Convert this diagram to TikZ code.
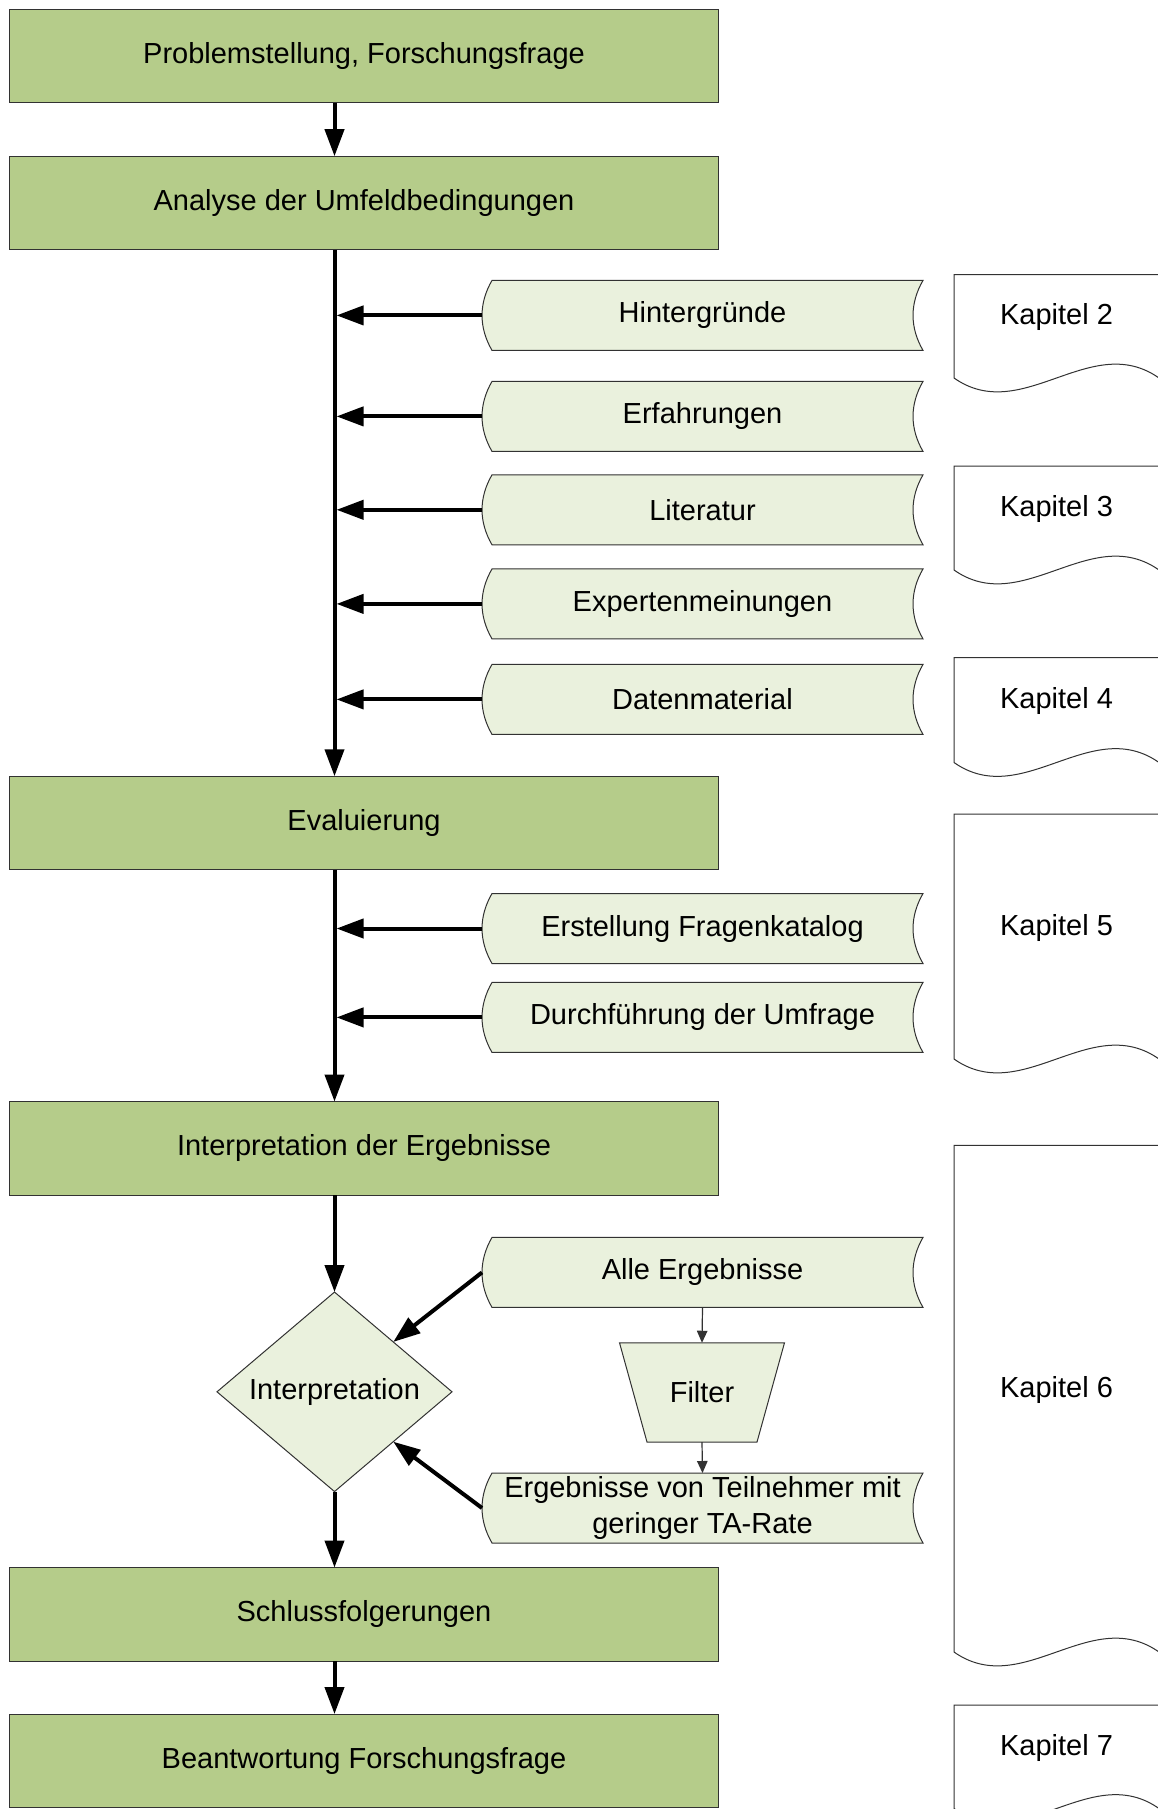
\documentclass[tikz,border=0pt]{standalone}
\usepackage{fontspec}
\setmainfont{Liberation Sans}
\usetikzlibrary{arrows.meta,calc,shapes.geometric,backgrounds}
\definecolor{mainfill}{RGB}{181,204,138}
\definecolor{lightfill}{RGB}{234,241,221}
\definecolor{edgecol}{RGB}{50,50,50}

\newcommand\datanode[3]{%
  \node[databox] (#1) at (702.5,#2) {#3};
  \begin{pgfonlayer}{background}
  \path[datafill] ($(#1.north west)+(10,0)$) -- (#1.north east)
    .. controls +(-13.3,23) and +(-13.3,-23) .. (#1.south east)
    -- ($(#1.south west)+(10,0)$)
    .. controls +(-13.3,-23) and +(-13.3,23) .. ($(#1.north west)+(10,0)$) -- cycle;
  \end{pgfonlayer}}

\newcommand\docnode[4]{% name, center y, height, text
  \node[docbox, minimum height=#3] (#1) at (1056.5,#2) {#4};
  \begin{pgfonlayer}{background}
  \path[docline] (#1.north west) -- (#1.north east) -- ($(#1.south east)+(0,18)$)
    .. controls ($(#1.south east)+(-68.3,-30)$) and ($(#1.south west)+(68.3,66)$) .. ($(#1.south west)+(0,18)$)
    -- cycle;
  \end{pgfonlayer}}

\begin{document}
\begin{tikzpicture}[x=1pt,y=-1pt,
  every node/.style={font=\fontsize{29}{36}\selectfont, inner sep=0pt, outer sep=0pt},
  mainbox/.style={rectangle, draw=edgecol, line width=1pt, fill=mainfill, minimum width=709.4pt, minimum height=93.5pt},
  databox/.style={rectangle, minimum width=441pt, minimum height=70pt, align=center},
  datafill/.style={fill=lightfill, draw=edgecol, line width=1pt},
  docbox/.style={rectangle, minimum width=205pt},
  docline/.style={fill=white, draw=edgecol, line width=1pt},
  bigarrow/.style={line width=4pt, -{Triangle[length=27pt,width=19pt]}},
  smallarrow/.style={line width=1.2pt, draw=edgecol, -{Triangle[length=12pt,width=10.5pt]}},
]
\begin{pgfonlayer}{background}
\fill[white] (0,0) rectangle (1157,1809);
\end{pgfonlayer}
\useasboundingbox (0,0) rectangle (1157,1809);

% main boxes
\node[mainbox] (b1) at (364,56) {Problemstellung, Forschungsfrage};
\node[mainbox] (b2) at (364,203) {Analyse der Umfeldbedingungen};
\node[mainbox] (b3) at (364,823) {Evaluierung};
\node[mainbox] (b4) at (364,1148.3) {Interpretation der Ergebnisse};
\node[mainbox] (b5) at (364,1614.3) {Schlussfolgerungen};
\node[mainbox] (b6) at (364,1760.8) {Beantwortung Forschungsfrage};

% stored data
\datanode{hin}{315.4}{Hintergründe}
\datanode{erf}{416.4}{Erfahrungen}
\datanode{lit}{509.8}{Literatur}
\datanode{exp}{603.9}{Expertenmeinungen}
\datanode{dat}{699.4}{Datenmaterial}
\datanode{ers}{928.5}{Erstellung Fragenkatalog}
\datanode{dur}{1017.4}{Durchführung der Umfrage}
\datanode{alle}{1272.4}{Alle Ergebnisse}
\datanode{erg}{1508}{Ergebnisse von Teilnehmer mit\\geringer TA-Rate}

% filter
\node[rectangle, minimum width=165pt, minimum height=99.3pt] (filt) at (702,1392.4) {Filter};
\begin{pgfonlayer}{background}
\path[datafill] (filt.north west) -- (filt.north east) -- ($(filt.south east)+(-27.5,0)$) -- ($(filt.south west)+(27.5,0)$) -- cycle;
\end{pgfonlayer}

% decision
\node[diamond, draw=edgecol, line width=1pt, fill=lightfill, minimum width=235pt, minimum height=199.5pt] (dia) at (334.5,1391.8) {Interpretation};

% chapters
\docnode{k2}{317.25}{85.5}{Kapitel 2}
\docnode{k3}{509}{86}{Kapitel 3}
\docnode{k4}{701}{87}{Kapitel 4}
\docnode{k5}{927.5}{227}{Kapitel 5}
\docnode{k6}{1389.7}{488.6}{Kapitel 6}
\docnode{k7}{1747.75}{85.5}{Kapitel 7}

% connectors
\draw[bigarrow] (b1.south -| dia) -- (b2.north -| dia);
\draw[bigarrow] (b2.south -| dia) -- (b3.north -| dia);
\draw[bigarrow] (b3.south -| dia) -- (b4.north -| dia);
\draw[bigarrow] (b4.south -| dia) -- (dia.north);
\draw[bigarrow] (dia.south) -- (b5.north -| dia);
\draw[bigarrow] (b5.south -| dia) -- (b6.north -| dia);
\foreach \d in {hin,erf,lit,exp,dat,ers,dur}
  \draw[bigarrow] (\d.west) -- ($(\d.west -| dia)+(2,0)$);
\draw[bigarrow] (alle.west) -- ($(dia.north)!0.5!(dia.east)$);
\draw[bigarrow] (erg.west) -- ($(dia.south)!0.5!(dia.east)$);
\draw[smallarrow] (alle.south) -- (filt.north);
\draw[smallarrow] (filt.south) -- (erg.north);
\end{tikzpicture}
\end{document}
